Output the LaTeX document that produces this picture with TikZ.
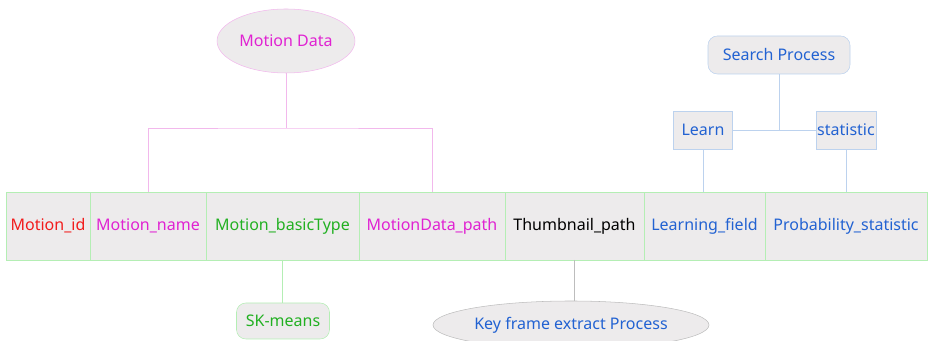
\documentclass[tikz,border=0pt]{standalone}
\usepackage{fontspec}
\setmainfont{Noto Sans}
\usetikzlibrary{positioning, shapes.geometric}

\definecolor{cellgray}{HTML}{EDEBEC}
\definecolor{linegreen}{HTML}{B4EEB4}
\definecolor{linepink}{HTML}{F2B8EC}
\definecolor{lineblue}{HTML}{BCD2EE}
\definecolor{linegray}{HTML}{BDBDBD}
\definecolor{txtred}{HTML}{F21C1C}
\definecolor{txtmagenta}{HTML}{E022D2}
\definecolor{txtgreen}{HTML}{22B022}
\definecolor{txtblue}{HTML}{2262D2}

\tikzset{
    cell/.style={
        draw=linegreen,
        rectangle,
        fill=cellgray,
        minimum height=51pt,
        inner sep=0pt,
        outer sep=0pt,
        font=\fontsize{12}{14}\selectfont
    },
    blob/.style={
        draw,
        ellipse,
        fill=cellgray,
        inner sep=0pt,
        font=\fontsize{12}{14}\selectfont
    },
    tag/.style={
        draw,
        rectangle,
        fill=cellgray,
        inner sep=0pt,
        font=\fontsize{12}{14}\selectfont
    }
}

\begin{document}
\begin{tikzpicture}[x=0.75pt, y=0.75pt]
    \useasboundingbox (0,0) rectangle (929,341);

    % the record
    \node[cell, minimum width=63pt, text=txtred] (id) at (48,115) {Motion\_id};
    \node[cell, minimum width=87pt, text=txtmagenta, right=0pt of id] (name) {Motion\_name};
    \node[cell, minimum width=114.75pt, text=txtgreen, right=0pt of name] (basic) {Motion\_basicType};
    \node[cell, minimum width=109.5pt, text=txtmagenta, right=0pt of basic] (mdpath) {MotionData\_path};
    \node[cell, minimum width=104.25pt, text=black, right=0pt of mdpath] (thumb) {Thumbnail\_path};
    \node[cell, minimum width=90.75pt, text=txtblue, right=0pt of thumb] (learnf) {Learning\_field};
    \node[cell, minimum width=121.5pt, text=txtblue, right=0pt of learnf] (prob) {Probability\_statistic};

    % sources above and below
    \node[blob, draw=linepink, text=txtmagenta, minimum width=103.5pt, minimum height=48pt] (md) at (286,300) {Motion Data};
    \node[tag, draw=lineblue, text=txtblue, rounded corners=7pt, minimum width=106.5pt, minimum height=28.5pt] (search) at (779,286) {Search Process};
    \node[tag, draw=lineblue, text=txtblue, minimum width=44.25pt, minimum height=28.5pt] (learn) at (703,211) {Learn};
    \node[tag, draw=lineblue, text=txtblue, minimum width=45pt, minimum height=28.5pt] (stat) at (846,211) {statistic};
    \node[tag, draw=linegreen, text=txtgreen, rounded corners=7pt, minimum width=69.75pt, minimum height=27pt] (skm) at (283,20) {SK-means};
    \node[blob, draw=linegray, text=txtblue, minimum width=207pt, minimum height=36pt] (kfe) at (571,16) {Key frame extract Process};

    % links
    \coordinate (mdjoin) at (286,213);
    \draw[linepink] (md.south) -- (mdjoin);
    \draw[linepink] (name.north) |- (mdjoin) -| (mdpath.north);
    \draw[lineblue] (learn.east) -- (stat.west);
    \draw[lineblue] (search.south) -- (search.south |- learn.east);
    \draw[lineblue] (learn.south) -- (learn.south |- learnf.north);
    \draw[lineblue] (stat.south) -- (stat.south |- prob.north);
    \draw[linegreen] (basic.south) -- (basic.south |- skm.north);
    \draw[linegray] (thumb.south) -- (thumb.south |- kfe.north);
\end{tikzpicture}
\end{document}
